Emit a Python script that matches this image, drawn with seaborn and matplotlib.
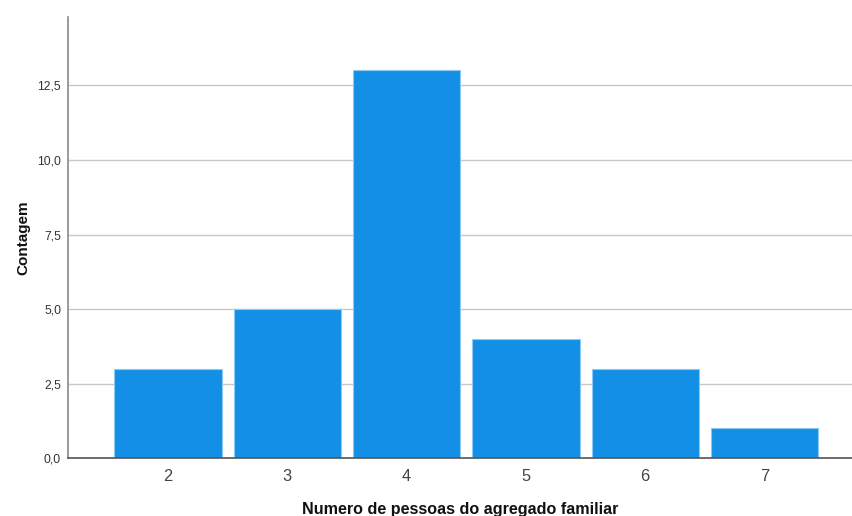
import pandas as pd
import matplotlib.pyplot as plt
import seaborn as sns
from matplotlib.ticker import FuncFormatter

# household size vs count
household_size = ['2', '3', '4', '5', '6', '7']
counts = [3, 5, 13, 4, 3, 1]
y_ticks = [0, 2.5, 5, 7.5, 10, 12.5]

df = pd.DataFrame({'Numero': household_size, 'Contagem': counts})

sns.set_style("white")
plt.rcParams['font.family'] = ['Liberation Sans', 'DejaVu Sans']

fig = plt.figure(figsize=(8.52, 5.16), dpi=100)
ax = fig.add_axes([68 / 852, 1 - 458.3 / 516, 1 - 68 / 852, (458.3 - 17) / 516])

ax.yaxis.grid(True, color='#c8c8c8', linewidth=1)
ax.set_axisbelow(True)

sns.barplot(data=df, x='Numero', y='Contagem', color='#1390e6', saturation=1,
            width=0.9, edgecolor='#8ccaf3', linewidth=0.8, ax=ax)

ax.set_xlim(-0.838, 5.733)
ax.set_ylim(0, 14.79)
ax.set_yticks(y_ticks)
ax.yaxis.set_major_formatter(FuncFormatter(lambda v, p: f"{v:.1f}".replace('.', ',')))

for s in ['top', 'right']:
  ax.spines[s].set_visible(False)
ax.spines['left'].set_color('#8a8a8a')
ax.spines['bottom'].set_color('#555555')
ax.spines['left'].set_linewidth(1.2)
ax.spines['bottom'].set_linewidth(1.2)

ax.tick_params(axis='y', labelsize=8.7, colors='#333333', length=3, width=1, color='#8a8a8a', pad=2)
ax.tick_params(axis='x', labelsize=11.8, colors='#444444', length=0, pad=8)

ax.set_ylabel("Contagem", fontsize=11, fontweight='bold', color='#111111', labelpad=5)
ax.set_xlabel("Numero de pessoas do agregado familiar", fontsize=11.6, fontweight='bold', color='#111111', labelpad=13)

fig.savefig('out.png', dpi=100)
